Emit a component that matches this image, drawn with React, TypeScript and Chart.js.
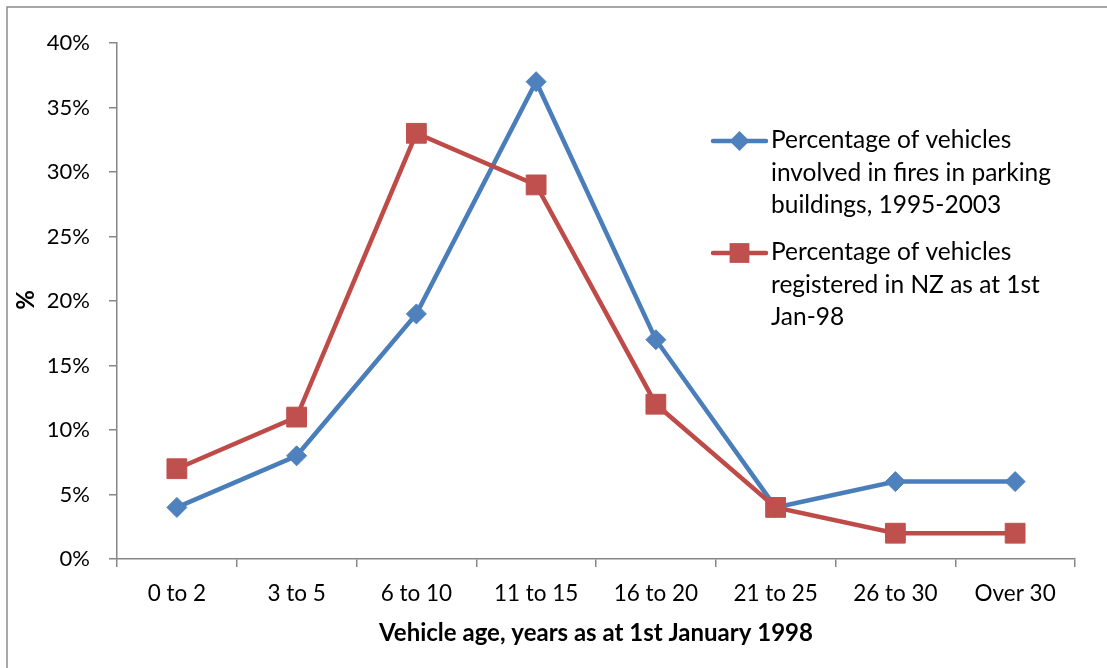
import React, { useEffect, useRef } from 'react';
import { Chart, registerables } from 'chart.js';

Chart.register(...registerables);

const categories = ['0 to 2', '3 to 5', '6 to 10', '11 to 15', '16 to 20', '21 to 25', '26 to 30', 'Over 30'];
const firesPct = [4, 8, 19, 37, 17, 4, 6, 6];
const registeredPct = [7, 11, 33, 29, 12, 4, 2, 2];
const firesLegend = ['Percentage of vehicles', 'involved in fires in parking', 'buildings, 1995-2003'];
const registeredLegend = ['Percentage of vehicles', 'registered in NZ as at 1st', 'Jan-98'];
const xTitle = 'Vehicle age, years as at 1st January 1998';
const yTitle = '%';

const FONT = 'Lato, "Open Sans", sans-serif';
const BLUE_LINE = '#4A7EBB';
const BLUE_MARK = '#4F81BD';
const RED_LINE = '#BE4B48';
const RED_MARK = '#C0504D';
const AXIS = '#868686';

function drawMarker(ctx: CanvasRenderingContext2D, style: string, x: number, y: number, r: number, color: string) {
  ctx.save();
  ctx.fillStyle = color;
  ctx.beginPath();
  if (style === 'rectRot') {
    ctx.moveTo(x - r, y);
    ctx.lineTo(x, y - r);
    ctx.lineTo(x + r, y);
    ctx.lineTo(x, y + r);
    ctx.closePath();
  } else {
    const s = Math.SQRT1_2 * r;
    ctx.rect(x - s, y - s, 2 * s, 2 * s);
  }
  ctx.fill();
  ctx.restore();
}

const decorPlugin = {
  id: 'decor',
  afterDraw(chart: any) {
    const ctx: CanvasRenderingContext2D = chart.ctx;
    const area = chart.chartArea;
    ctx.save();
    // outer border (top and left)
    ctx.strokeStyle = '#8c8c8c';
    ctx.lineWidth = 1.5;
    ctx.beginPath();
    ctx.moveTo(7, chart.height);
    ctx.lineTo(7, 7);
    ctx.lineTo(chart.width, 7);
    ctx.stroke();

    // x title
    ctx.fillStyle = '#000';
    ctx.font = `bold 24px ${FONT}`;
    ctx.textAlign = 'center';
    ctx.textBaseline = 'middle';
    ctx.fillText(xTitle, (area.left + area.right) / 2, 633);

    // y title
    ctx.save();
    ctx.translate(26, 300);
    ctx.rotate(-Math.PI / 2);
    ctx.fillText(yTitle, 0, 0);
    ctx.restore();

    // legend
    const entries = [
      { lines: firesLegend, ds: chart.data.datasets[0], y: 141 },
      { lines: registeredLegend, ds: chart.data.datasets[1], y: 253 },
    ];
    ctx.font = `24.5px ${FONT}`;
    ctx.textAlign = 'left';
    ctx.textBaseline = 'alphabetic';
    for (const e of entries) {
      ctx.strokeStyle = e.ds.borderColor;
      ctx.lineWidth = e.ds.borderWidth;
      ctx.lineCap = 'round';
      ctx.beginPath();
      ctx.moveTo(713, e.y);
      ctx.lineTo(766, e.y);
      ctx.stroke();
      drawMarker(ctx, e.ds.pointStyle, 739.5, e.y, e.ds.pointRadius, e.ds.pointBackgroundColor);
      ctx.fillStyle = '#000';
      e.lines.forEach((t: string, i: number) => {
        ctx.fillText(t, 771, e.y + 7 + i * 32.5);
      });
    }
    ctx.restore();
  },
};

export default function App() {
  const ref = useRef<HTMLCanvasElement>(null);
  useEffect(() => {
    const chart = new Chart(ref.current!, {
      type: 'line',
      data: {
        labels: categories,
        datasets: [
          {
            label: firesLegend.join(' '),
            data: firesPct,
            borderColor: BLUE_LINE,
            borderWidth: 4.5,
            pointStyle: 'rectRot',
            pointRadius: 10,
            pointBackgroundColor: BLUE_MARK,
            pointBorderColor: BLUE_MARK,
            pointBorderWidth: 1,
            tension: 0,
            order: 2,
          },
          {
            label: registeredLegend.join(' '),
            data: registeredPct,
            borderColor: RED_LINE,
            borderWidth: 4.5,
            pointStyle: 'rect',
            pointRadius: 14,
            pointBackgroundColor: RED_MARK,
            pointBorderColor: RED_MARK,
            pointBorderWidth: 1,
            tension: 0,
            order: 1,
          },
        ] as any,
      },
      options: {
        animation: false,
        responsive: false,
        maintainAspectRatio: false,
        layout: { padding: { left: 0, top: 43, right: 32, bottom: 0 } },
        plugins: { legend: { display: false }, tooltip: { enabled: false } },
        scales: {
          x: {
            type: 'category',
            offset: true,
            grid: { offset: true, drawOnChartArea: false, drawTicks: true, tickLength: 8, color: AXIS, lineWidth: 1.5 },
            border: { display: true, color: AXIS, width: 1.5 },
            ticks: { color: '#000', font: { family: FONT, size: 22.5 }, padding: 13, maxRotation: 0, autoSkip: false },
            afterFit: (s: any) => { s.height = 668 - 559; },
          },
          y: {
            min: 0,
            max: 40,
            grid: { drawOnChartArea: false, drawTicks: true, tickLength: 8, color: AXIS, lineWidth: 1.5 },
            border: { display: true, color: AXIS, width: 1.5 },
            ticks: {
              stepSize: 5,
              color: '#000',
              font: { family: FONT, size: 22 },
              padding: 19,
              callback: (v: any) => `${v}%`,
            },
            afterFit: (s: any) => { s.width = 117; },
          },
        },
      } as any,
      plugins: [decorPlugin],
    });
    return () => chart.destroy();
  }, []);
  return (
    <div style={{ position: 'absolute', left: 0, top: 0, width: 1107, height: 668, background: '#fff' }}>
      <canvas ref={ref} width={1107} height={668} style={{ display: 'block' }} />
    </div>
  );
}
